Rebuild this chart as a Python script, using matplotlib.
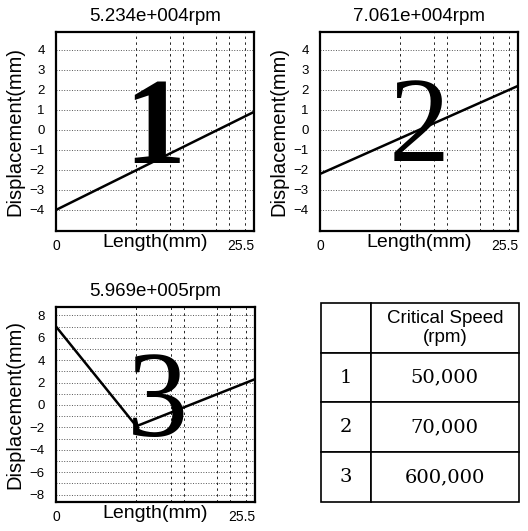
import matplotlib
matplotlib.use("Agg")
import matplotlib.pyplot as plt
from matplotlib.ticker import MultipleLocator

plt.rcParams['font.family'] = ['Liberation Sans', 'DejaVu Sans']

# 데이터
length_max = 25.5
nodes = [10.3, 14.7, 16.4, 20.6, 22.3, 24.4]   # 세로 점선 위치
titles = ["5.234e+004rpm", "7.061e+004rpm", "5.969e+005rpm"]
mode1_x = [0, 25.5]
mode1_y = [-4.0, 0.9]
mode2_x = [0, 25.5]
mode2_y = [-2.2, 2.2]
mode3_x = [0, 10.3, 25.5]
mode3_y = [7.0, -1.9, 2.3]
yticks_12 = [-4, -3, -2, -1, 0, 1, 2, 3, 4]
yticks_3 = [-8, -6, -4, -2, 0, 2, 4, 6, 8]
mode_no = ["1", "2", "3"]
speeds = ["50,000", "70,000", "600,000"]

fig = plt.figure(figsize=(5.28, 5.31), dpi=100)

ax1 = fig.add_axes([0.106, 0.565, 0.375, 0.375])
ax2 = fig.add_axes([0.606, 0.565, 0.375, 0.375])
ax3 = fig.add_axes([0.106, 0.055, 0.377, 0.367])
ax4 = fig.add_axes([0.608, 0.055, 0.375, 0.374])


def draw_mode(ax, x, y, title, ylim, yticks, num, num_xy, weight):
    ax.plot(x, y, color='black', lw=1.8, zorder=3)
    ax.set_xlim(0, length_max)
    ax.set_ylim(ylim)
    ax.set_xticks([0, length_max])
    ax.set_xticklabels(["0", "25.5"])
    ax.get_xticklabels()[-1].set_horizontalalignment('right')
    ax.set_yticks(yticks)
    ax.yaxis.set_minor_locator(MultipleLocator(1))
    ax.grid(True, which='both', axis='y', linestyle=':', color='#555555', lw=0.7)
    for n in nodes:
        ax.axvline(n, color='#222222', linestyle=(0, (2.5, 3.5)), lw=0.7)
    ax.tick_params(axis='y', which='major', labelsize=9.5, length=0, pad=8)
    ax.tick_params(axis='x', which='major', labelsize=10, length=0, pad=6)
    ax.tick_params(axis='y', which='minor', length=0)
    for s in ax.spines.values():
        s.set_linewidth(1.6)
    ax.set_title(title, fontsize=13.5, pad=8)
    ax.set_ylabel("Displacement(mm)", fontsize=14.5, labelpad=4)
    ax.set_xlabel("Length(mm)", fontsize=14, labelpad=-14)
    ax.text(num_xy[0], num_xy[1], num, fontsize=88, family='Liberation Serif',
            fontweight=weight, ha='center', va='center', transform=ax.transAxes, zorder=2)


draw_mode(ax1, mode1_x, mode1_y, titles[0], (-5.05, 4.9), yticks_12, mode_no[0], (0.50, 0.49), 'bold')
draw_mode(ax2, mode2_x, mode2_y, titles[1], (-5.05, 4.9), yticks_12, mode_no[1], (0.50, 0.50), 'normal')
draw_mode(ax3, mode3_x, mode3_y, titles[2], (-8.65, 8.75), yticks_3, mode_no[2], (0.51, 0.49), 'normal')

# 표
cell_text = [["", "Critical Speed\n(rpm)"]] + [[n, s] for n, s in zip(mode_no, speeds)]
tb = ax4.table(cellText=cell_text, colWidths=[0.25, 0.75], bbox=[0, 0, 1, 1],
               cellLoc='center')
tb.auto_set_font_size(False)
for (r, c), cell in tb.get_celld().items():
    cell.set_linewidth(1.2)
    txt = cell.get_text()
    if r == 0:
        txt.set_fontsize(13.5)
        txt.set_fontfamily(['Liberation Sans', 'DejaVu Sans'])
    else:
        txt.set_fontsize(14)
        txt.set_fontfamily(['DejaVu Serif'])
ax4.axis('off')

fig.savefig("out.png", dpi=100)
